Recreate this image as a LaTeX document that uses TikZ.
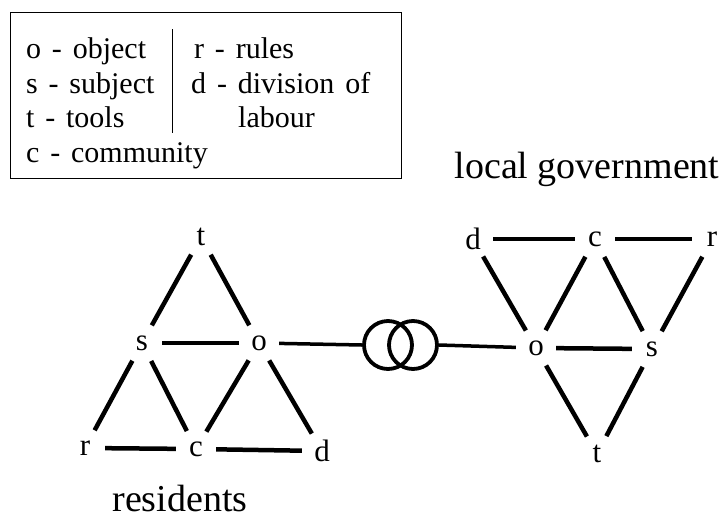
\documentclass[tikz,border=0pt]{standalone}
\usepackage{fontspec}
\setmainfont{Liberation Serif}
\usepackage{tikz}
\usetikzlibrary{positioning}

\newcommand{\keyfont}{\fontsize{30}{36}\selectfont\spaceskip=0.36em\relax}

\begin{document}
\begin{tikzpicture}[
    x=1pt, y=-1pt,
    lbl/.style={circle, inner sep=0pt, minimum size=40pt,
                font=\fontsize{31}{36}\selectfont},
    link/.style={draw, line width=4.5pt},
    ring/.style={circle, draw, line width=3.8pt, inner sep=0pt,
                 minimum size=48pt},
    key/.style={anchor=base west, inner sep=0pt, font=\keyfont},
    title/.style={anchor=base, inner sep=0pt,
                  font=\fontsize{38}{44}\selectfont}
]
    \useasboundingbox (0,0) rectangle (720,520);

    % legend
    \node [draw, line width=1pt, minimum width=391pt, minimum height=166pt,
           inner sep=0pt] (legend) at (205.5,95.5) {};
    \node [key] (ko) at (26,58)  {o - object};
    \node [key] (ks) at (26,93)  {s - subject};
    \node [key] (kt) at (26,127) {t - tools};
    \node [key] (kc) at (26,162) {c - community};
    \node [key] (kr) at (194,58)  {r - rules};
    \node [key] (kd) at (191,93)  {d - division of};
    \node [key] (kl) at (238,127) {labour};
    \draw [line width=1pt] (172,29) -- (172,133);

    % residents
    \node [lbl] (lt) at (201,237) {t};
    \node [lbl] (ls) at (142,343) {s};
    \node [lbl] (lo) at (259,343) {o};
    \node [lbl] (lr) at (85,448)  {r};
    \node [lbl] (lc) at (196,449) {c};
    \node [lbl] (ld) at (322,451) {d};
    \node [title] (res) at (180,511) {residents};

    \path [link] (lt) -- (ls);
    \path [link] (lt) -- (lo);
    \path [link] (ls) -- (lo);
    \path [link] (ls) -- (lr);
    \path [link] (ls) -- (lc);
    \path [link] (lo) -- (lc);
    \path [link] (lo) -- (ld);
    \path [link] (lr) -- (lc);
    \path [link] (lc) -- (ld);

    % local government
    \node [lbl] (rd) at (473,239) {d};
    \node [lbl] (rc) at (595,239) {c};
    \node [lbl] (rr) at (712,239) {r};
    \node [lbl] (ro) at (536,348) {o};
    \node [lbl] (rs) at (652,349) {s};
    \node [lbl] (rt) at (597,454) {t};
    \node [title] (gov) at (587,178) {local government};

    \path [link] (rd) -- (rc);
    \path [link] (rc) -- (rr);
    \path [link] (rd) -- (ro);
    \path [link] (rc) -- (ro);
    \path [link] (rc) -- (rs);
    \path [link] (rr) -- (rs);
    \path [link] (ro) -- (rs);
    \path [link] (ro) -- (rt);
    \path [link] (rs) -- (rt);

    % coupling
    \node [ring] (ring1) at (388,345) {};
    \node [ring] (ring2) at (413,345) {};
    \path [link, line width=3.5pt] (lo) -- (ring1.west);
    \path [link, line width=3.5pt] (ring2.east) -- (ro);
\end{tikzpicture}
\end{document}
